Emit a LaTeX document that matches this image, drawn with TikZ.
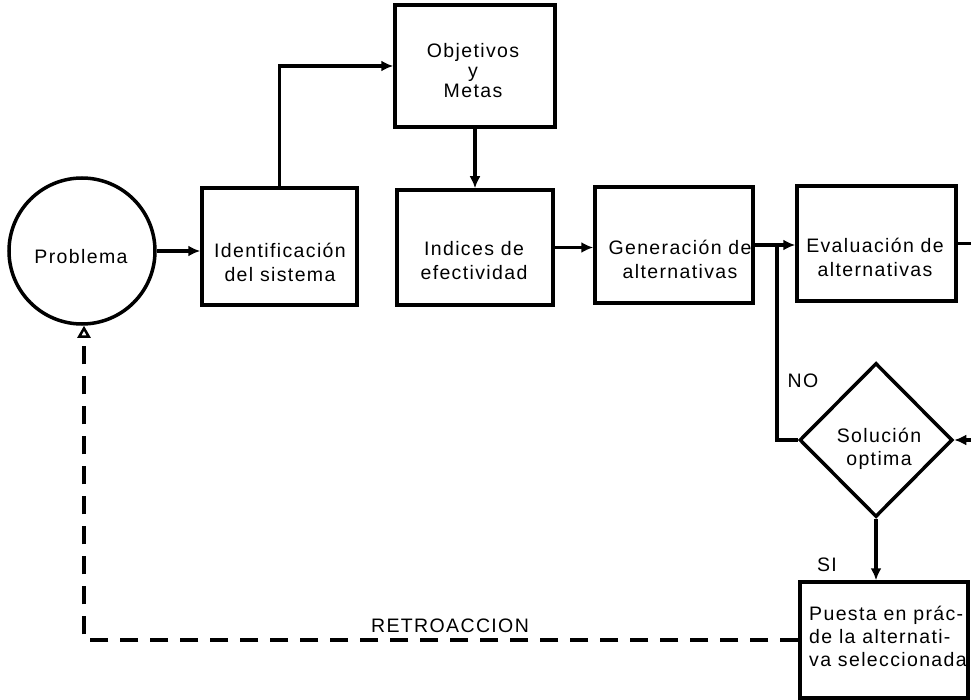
\documentclass[tikz,border=0pt]{standalone}
\usepackage{fontspec}
\setmainfont{Liberation Sans}[LetterSpace=7]
\usetikzlibrary{arrows.meta,shapes.geometric}
\begin{document}
\begin{tikzpicture}[x=1pt,y=-1pt,
  boxst/.style={draw=black,line width=3.5pt,rectangle,inner sep=0pt},
  txt/.style={font=\fontsize{19.5}{24}\selectfont,align=center,inner sep=0pt},
  lbl/.style={font=\fontsize{19.5}{24}\selectfont,inner sep=0pt},
  conn/.style={line width=3.5pt},
  arr/.style={conn,-{Latex[length=12pt,width=11pt]}},
  dsh/.style={line width=4.5pt,dash pattern=on 18pt off 12pt,-{Triangle[open,length=12pt,width=13pt,line width=2.5pt]}}]
\useasboundingbox (0,0) rectangle (971,700);
\clip (0,0) rectangle (971,700);
% shapes
\node[boxst,circle,minimum size=146pt] (prob) at (82,251) {};
\node[txt] (probt) at (81,257) {Problema};
\node[boxst,minimum width=155pt,minimum height=117pt] (ident) at (279.5,246.5) {};
\node[txt] (identt) at (280,262) {Identificación\\del sistema};
\node[boxst,minimum width=160pt,minimum height=122pt] (obj) at (475,66) {};
\node[txt,font=\fontsize{19.5}{20}\selectfont] (objt) at (473,71) {Objetivos\\y\\Metas};
\node[boxst,minimum width=156pt,minimum height=115pt] (ind) at (475,247.5) {};
\node[txt] (indt) at (474,261) {Indices de\\efectividad};
\node[boxst,minimum width=158pt,minimum height=116pt] (gen) at (674,245) {};
\node[txt] (gent) at (680,259) {Generación de\\alternativas};
\node[boxst,minimum width=159pt,minimum height=115pt] (eva) at (876.5,243.5) {};
\node[txt] (evat) at (875,257) {Evaluación de\\alternativas};
\node[boxst,diamond,minimum width=153pt,minimum height=154pt] (dia) at (876,440) {};
\node[txt,font=\fontsize{19.5}{23}\selectfont] (diat) at (879,449) {Solución\\optima};
\node[boxst,minimum width=168pt,minimum height=116pt] (pue) at (884,640) {};
\node[txt,align=left,anchor=west,font=\fontsize{19.5}{23}\selectfont] (puet) at (809,636) {Puesta en prác-\\de la alternati-\\va seleccionada};
% labels
\node[lbl] (no) at (803,381) {NO};
\node[lbl] (si) at (827,565) {SI};
\node[lbl] (retro) at (450,626) {RETROACCION};
% connectors
\draw[arr] (prob.east) -- (prob.east -| ident.west);
\draw[arr] (ident.north) |- (obj.west);
\draw[arr] (obj.south) -- (ind.north);
\draw[arr] (ind.east) -- (ind.east -| gen.west);
\draw[arr] (gen.east) -- (gen.east -| eva.west);
\coordinate (bx) at (777,0);
\coordinate (br) at (gen.east -| bx);
\draw[conn] (br) |- (dia.west);
\coordinate (rA) at (990,0);
\draw[conn] (eva.east) -- (eva.east -| rA);
\coordinate (rB) at (dia.east -| rA);
\draw[arr] (rB) -- (dia.east);
\draw[arr] (dia.south) -- (dia.south |- pue.north);
\coordinate (fb) at (84,640);
\draw[dsh] (pue.west) -- (fb) -- (fb |- prob.south);
\end{tikzpicture}
\end{document}
